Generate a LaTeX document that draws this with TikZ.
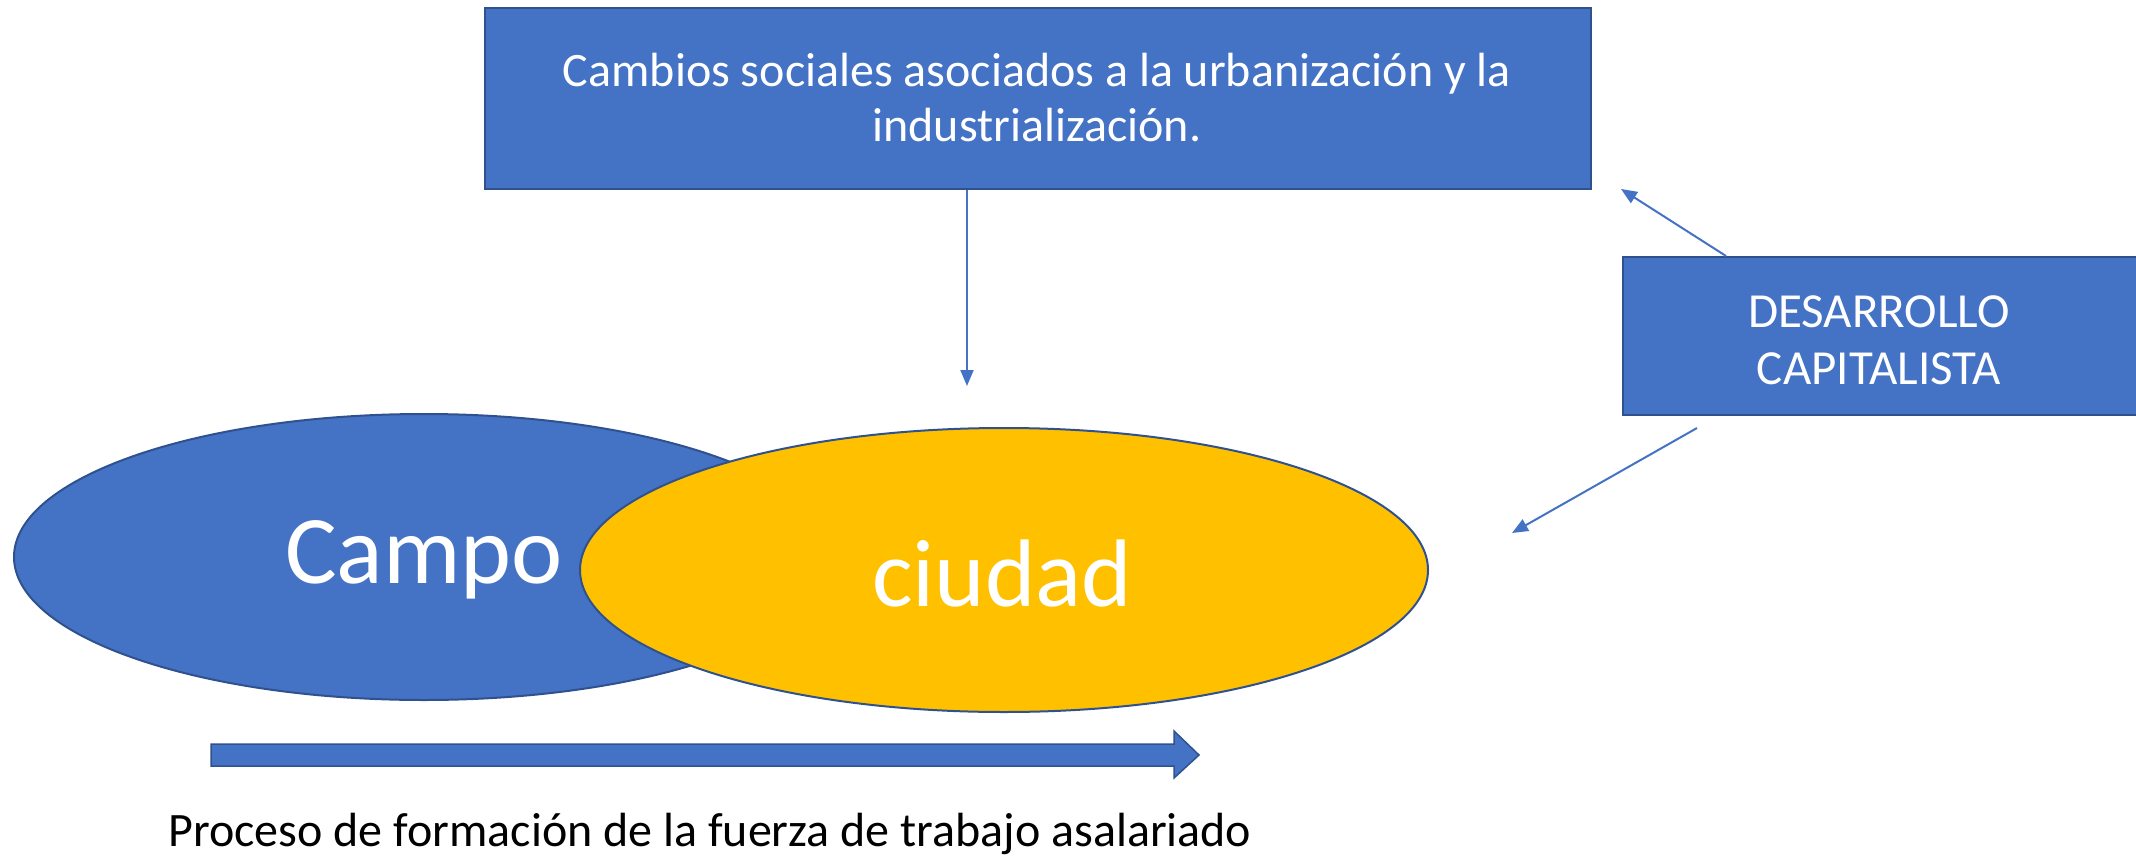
\documentclass[tikz,border=0pt]{standalone}
\usepackage{fontspec}
\setmainfont{Carlito}
\usetikzlibrary{shapes.geometric,arrows.meta}
\definecolor{obl}{HTML}{4472C4}
\definecolor{obd}{HTML}{2F528F}
\definecolor{oye}{HTML}{FFC000}
\tikzset{
  bluebox/.style={draw=obd, line width=2pt, fill=obl, text=white, align=center, inner sep=0pt},
  oval/.style={ellipse, draw=obd, line width=2pt, inner sep=0pt},
  conn/.style={draw=obl, line width=2pt, -{Triangle[length=16pt,width=13pt]}}
}
\begin{document}
\begin{tikzpicture}[x=1pt,y=-1pt]
\useasboundingbox (0,0) rectangle (2136,859);
% top box
\node[bluebox, minimum width=1106pt, minimum height=181pt, anchor=north west] (top) at (484,7) {};
\node[text=white, align=center, font=\fontsize{48}{55}\selectfont] (toptext) at (1037,98) {Cambios sociales asociados a la urbanización y la\\industrialización.};
% desarrollo box
\node[bluebox, minimum width=520pt, minimum height=158pt, anchor=north west] (des) at (1622,256) {};
\node[text=white, align=center, font=\fontsize{49}{57}\selectfont] (destext) at (1879,340) {DESARROLLO\\CAPITALISTA};
% ellipses
\node[oval, fill=obl, minimum width=820pt, minimum height=286pt] (campo) at (424,557) {};
\node[text=white, font=\fontsize{97}{107}\selectfont] (campotext) at (424,560) {Campo};
\node[oval, fill=oye, minimum width=848pt, minimum height=284pt] (ciudad) at (1004,570) {};
\node[text=white, font=\fontsize{96}{106}\selectfont] (ciudadtext) at (1002,574) {ciudad};
% connectors
\coordinate (a1) at (967,386);
\draw[conn] (top.south -| a1) -- (a1);
\coordinate (a2s) at (1726,256);
\coordinate (a2e) at (1621,189);
\draw[conn] (a2s) -- (a2e);
\coordinate (a3s) at (1697,428);
\coordinate (a3e) at (1512,533);
\draw[conn] (a3s) -- (a3e);
% block arrow
\draw[draw=obd, line width=1.5pt, fill=obl] (211,744) -- (1174,744) -- (1174,731) -- (1199,755) -- (1174,778) -- (1174,766) -- (211,766) -- cycle;
\node[font=\fontsize{48}{56}\selectfont] (proc) at (710,834) {Proceso de formación de la fuerza de trabajo asalariado};
\end{tikzpicture}
\end{document}
